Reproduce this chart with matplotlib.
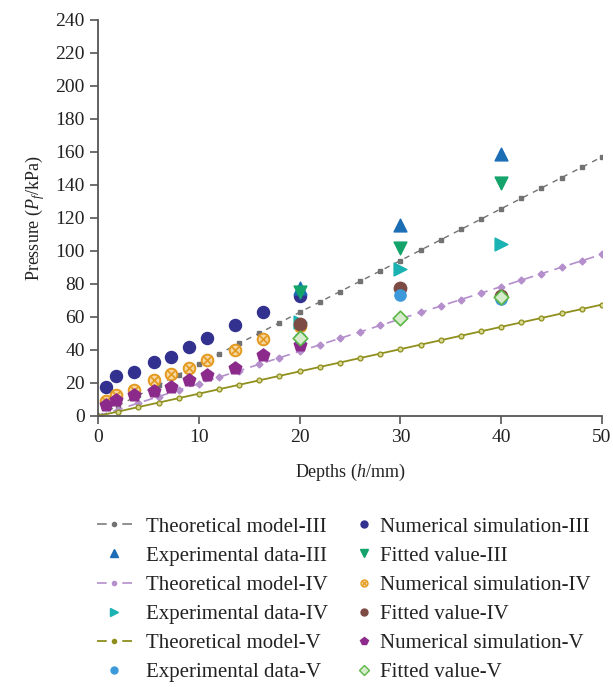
import numpy as np
import matplotlib
matplotlib.use('Agg')
import matplotlib.pyplot as plt
from matplotlib.lines import Line2D
from matplotlib.legend_handler import HandlerTuple

plt.rcParams['font.family'] = 'Liberation Serif'
plt.rcParams['mathtext.fontset'] = 'custom'
plt.rcParams['mathtext.rm'] = 'Liberation Serif'
plt.rcParams['mathtext.it'] = 'Liberation Serif:italic'
plt.rcParams['lines.scale_dashes'] = False

# theoretical model lines (every 2 mm)
theo_x = np.arange(0, 51, 2)
theo_III = 3.14 * theo_x
theo_IV = 1.96 * theo_x
theo_V = 1.35 * theo_x

# numerical simulation
num_x = [0.8, 1.8, 3.6, 5.5, 7.2, 9.0, 10.8, 13.6, 16.4, 20]
num_III = [17.6, 24.2, 26.7, 32.7, 35.8, 41.8, 47.3, 55.2, 63.0, 72.7]
num_IV = [9.1, 12.7, 15.8, 21.8, 25.5, 29.1, 33.9, 40.0, 46.7, 54.5]
num_V = [6.7, 9.7, 12.7, 15.2, 17.6, 21.8, 24.8, 29.1, 37.0, 43.0]

# experimental data and fitted values
exp_x = [20, 30, 40]
exp_III = [77.5, 115.5, 159.0]
fit_III = [75.0, 102.0, 141.0]
exp_IV = [57.0, 89.0, 104.0]
fit_IV = [56.0, 77.5, 73.0]
exp_V = [47.0, 73.5, 71.0]
fit_V = [47.5, 59.5, 72.0]

fig = plt.figure(figsize=(6.13, 6.87), dpi=100)
ax = fig.add_axes([0.16, 0.3945, 0.822, 0.5765])

c_III = '#727272'
c_IV = '#b48fcc'
c_V = '#8f8f1e'

ax.plot(theo_x, theo_III, color=c_III, ls=(0, (4, 4)), lw=1.0, marker='s', ms=3.5, zorder=2)
ax.plot(theo_x, theo_IV, color=c_IV, ls=(0, (7, 4.5)), lw=1.2, marker='D', ms=3.5, zorder=2)
ax.plot(theo_x, theo_V, color=c_V, ls='-', lw=1.3, marker='o', ms=3.5, mfc='#d8d890', mec=c_V, mew=0.9, zorder=2)

ax.scatter(num_x, num_III, s=75, color='#32318f', zorder=3)
ax.scatter(num_x, num_IV, s=70, facecolor='#f6d7a0', edgecolor='#e39a1e', lw=1.4, zorder=3)
ax.scatter(num_x, num_IV, s=28, marker='x', color='#e39a1e', lw=1.2, zorder=3)
ax.scatter(num_x, num_V, s=90, marker='p', color='#8b2a8b', zorder=3)

ax.scatter(exp_x, exp_III, s=85, marker='^', color='#1b6db4', zorder=4)
ax.scatter(exp_x, fit_III, s=85, marker='v', color='#14a46b', zorder=4)
ax.scatter(exp_x, exp_IV, s=85, marker='>', color='#1ab2b2', zorder=4)
ax.scatter(exp_x, fit_IV, s=80, marker='o', color='#7d4b44', zorder=4)
ax.scatter(exp_x, exp_V, s=65, marker='o', color='#3d9ada', zorder=4)
ax.scatter(exp_x, fit_V, s=55, marker='D', facecolor='#d6eccd', edgecolor='#5cb646', lw=1.2, zorder=5)

ax.set_xlim(0, 50)
ax.set_ylim(0, 240)
ax.set_xticks([0, 10, 20, 30, 40, 50])
ax.set_yticks(np.arange(0, 241, 20))
for s in ['top', 'right']:
    ax.spines[s].set_visible(False)
for s in ['left', 'bottom']:
    ax.spines[s].set_color('#555555')
    ax.spines[s].set_linewidth(1.3)
ax.tick_params(axis='both', direction='out', length=6, width=1.2, color='#555555',
               labelsize=14, labelcolor='#222222')
ax.set_xlabel('Depths ($h$/mm)', fontsize=13, color='#222222', labelpad=11)
ax.set_ylabel('Pressure ($P_f$/kPa)', fontsize=13, color='#222222', labelpad=6)

# legend, built as two columns
dash = (0, (7, 11.2))
h_tIII = Line2D([], [], color=c_III, ls=dash, lw=1.1, marker='o', ms=3)
h_tIV = Line2D([], [], color=c_IV, ls=dash, lw=1.2, marker='o', ms=3)
h_tV = Line2D([], [], color=c_V, ls=dash, lw=1.3, marker='o', ms=3)
h_eIII = Line2D([], [], ls='none', marker='^', color='#1b6db4', ms=6)
h_eIV = Line2D([], [], ls='none', marker='>', color='#1ab2b2', ms=6)
h_eV = Line2D([], [], ls='none', marker='o', color='#3d9ada', ms=5)
h_nIII = Line2D([], [], ls='none', marker='o', color='#32318f', ms=5)
h_nIV = (Line2D([], [], ls='none', marker='o', mfc='#f6d7a0', mec='#e39a1e', ms=5),
         Line2D([], [], ls='none', marker='x', color='#e39a1e', ms=3, mew=0.9))
h_nV = Line2D([], [], ls='none', marker='p', color='#8b2a8b', ms=6)
h_fIII = Line2D([], [], ls='none', marker='v', color='#14a46b', ms=6)
h_fIV = Line2D([], [], ls='none', marker='o', color='#7d4b44', ms=5)
h_fV = Line2D([], [], ls='none', marker='D', mfc='#d6eccd', mec='#5cb646', ms=5)

col1_handles = [h_tIII, h_eIII, h_tIV, h_eIV, h_tV, h_eV]
col1_labels = ['Theoretical model-III', 'Experimental data-III', 'Theoretical model-IV',
               'Experimental data-IV', 'Theoretical model-V', 'Experimental data-V']
col2_handles = [h_nIII, h_fIII, h_nIV, h_fIV, h_nV, h_fV]
col2_labels = ['Numerical simulation-III', 'Fitted value-III', 'Numerical simulation-IV',
               'Fitted value-IV', 'Numerical simulation-V', 'Fitted value-V']

common = dict(loc='upper left', frameon=False, fontsize=15, labelcolor='#222222',
              labelspacing=0.46, borderaxespad=0, borderpad=0,
              handler_map={tuple: HandlerTuple(ndivide=1)})
fig.legend(col1_handles, col1_labels, bbox_to_anchor=(0.158, 0.2475),
           handlelength=1.68, handletextpad=0.67, **common)
fig.legend(col2_handles, col2_labels, bbox_to_anchor=(0.581, 0.2475),
           handlelength=0.8, handletextpad=0.36, **common)

fig.savefig('out.png', dpi=100)
